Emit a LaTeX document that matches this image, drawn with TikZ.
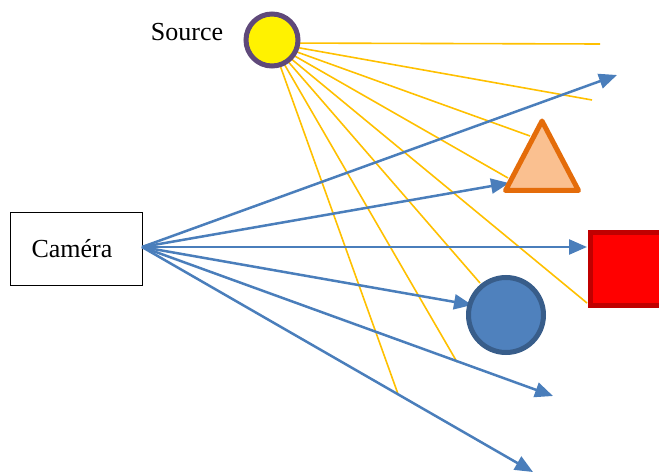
\documentclass[tikz,border=0pt]{standalone}
\usepackage{fontspec}
\setmainfont{Liberation Serif}
\usetikzlibrary{arrows.meta,shapes.geometric}
\definecolor{ray}{HTML}{FFC000}
\definecolor{sight}{HTML}{4A7EBB}
\definecolor{srcedge}{HTML}{5F497A}
\definecolor{triedge}{HTML}{E46C0A}
\definecolor{trifill}{HTML}{FAC090}
\definecolor{sqedge}{HTML}{C00000}
\definecolor{circedge}{HTML}{385D8A}
\definecolor{circfill}{HTML}{4F81BD}
\tikzset{
  light/.style={draw=ray, line width=1.6pt},
  view/.style={draw=sight, line width=2.5pt, -{Triangle[length=18pt,width=15pt]}},
  lbl/.style={font=\fontsize{26}{31}\selectfont, inner sep=0pt},
}
\begin{document}
\begin{tikzpicture}[x=1pt,y=-1pt]
\useasboundingbox (0,0) rectangle (659,473);
% light source origin
\coordinate (o) at (272,43);
\coordinate (l1) at (600,44);
\coordinate (l2) at (592,100);
\coordinate (l3) at (530,136);
\coordinate (l4) at (508,178);
\coordinate (l5) at (587,303);
\coordinate (l6) at (480,283);
\coordinate (l7) at (457,362);
\coordinate (l8) at (398,394);
\foreach \p in {l1,l2,l3,l4,l5,l6,l7,l8} \draw[light] (o) -- (\p);
% camera
\node[draw=black, line width=0.8pt, minimum width=132pt, minimum height=73pt, inner sep=0pt] (cam) at (76.5,248.5) {};
\node[lbl] (camlbl) at (72,249) {Caméra};
\coordinate (c) at (142,247);
\coordinate (v1) at (617,75);
\coordinate (v2) at (509,183);
\coordinate (v3) at (587,247);
\coordinate (v4) at (472,305);
\coordinate (v5) at (553,396);
\coordinate (v6) at (533,472);
\foreach \p in {v1,v2,v3,v4,v5,v6} \draw[view] (c) -- (\p);
% objects
\draw[draw=triedge, fill=trifill, line width=5pt, line join=round] (542,121) -- (578.5,190.5) -- (505.5,190.5) -- cycle;
\node[draw=sqedge, fill=red, line width=5pt, minimum width=90pt, minimum height=73pt, inner sep=0pt] (sq) at (635,269) {};
\node[draw=circedge, fill=circfill, line width=5pt, circle, minimum size=75pt, inner sep=0pt] (ball) at (506,315) {};
\node[draw=srcedge, fill=yellow, line width=5pt, circle, minimum size=52pt, inner sep=0pt] (src) at (272,40) {};
\node[lbl] (srclbl) at (187,32) {Source};
\end{tikzpicture}
\end{document}
